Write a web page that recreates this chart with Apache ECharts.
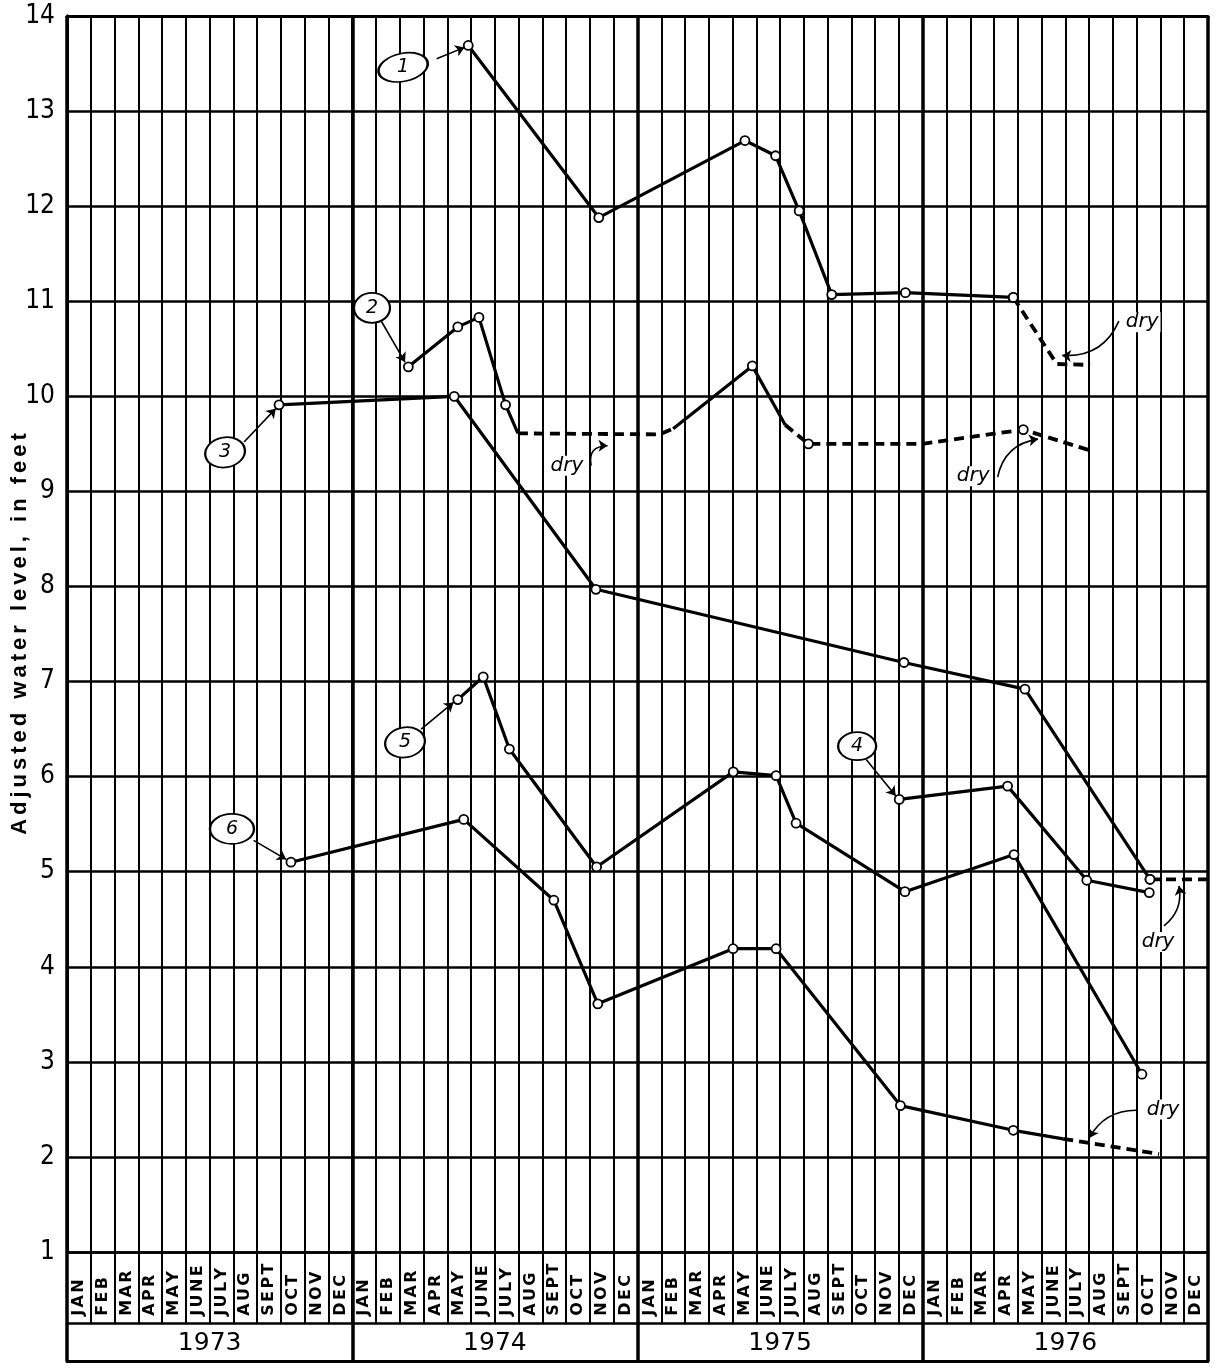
<!DOCTYPE html>
<html><head><meta charset="utf-8">
<script src="https://cdn.jsdelivr.net/npm/echarts@6/dist/echarts.min.js"></script>
<style>html,body{margin:0;padding:0;background:#fff}#c{width:1221px;height:1369px}</style>
</head><body><div id="c"></div>
<script>
// ---------- tick labels / categories ----------
const monthLabels = ['JAN','FEB','MAR','APR','MAY','JUNE','JULY','AUG','SEPT','OCT','NOV','DEC'];
const yearLabels = ['1973','1974','1975','1976'];
const yMin = 1, yMax = 14;
const yTitle = 'Adjusted water level, in feet';

// ---------- series values: [months since Jan 1973, water level (ft), measured(1)/not(0)] ----------
const well1 = [[16.88,13.69,1],[22.37,11.88,1],[28.52,12.69,1],[29.81,12.53,1],[30.80,11.95,1],[32.17,11.07,1],[35.27,11.09,1],[39.81,11.04,1]];
const well1Dry = [[39.81,11.04,1],[41.64,10.34,0],[43.04,10.33,0]];

const well2a = [[14.36,10.31,1],[16.44,10.73,1],[17.33,10.83,1],[18.45,9.91,1],[18.97,9.61,0]];
const well2DryA = [[18.97,9.61,0],[24.95,9.60,0],[25.5,9.66,0]];
const well2b = [[25.5,9.66,0],[28.83,10.32,1],[30.21,9.70,0]];
const well2DryB = [[30.21,9.70,0],[31.19,9.50,1],[35.98,9.50,0],[40.23,9.65,1],[43.04,9.43,0]];

const well3 = [[8.92,9.91,1],[16.29,10.00,1],[22.25,7.97,1],[35.21,7.20,1],[40.30,6.92,1],[45.56,4.92,1]];
const well3Dry = [[45.56,4.92,1],[48,4.92,0]];

const well4 = [[35.01,5.76,1],[39.57,5.90,1],[42.90,4.91,1],[45.53,4.78,1]];

const well5 = [[16.44,6.81,1],[17.51,7.05,1],[18.61,6.29,1],[22.28,5.05,1],[28.03,6.05,1],[29.83,6.01,1],[30.67,5.51,1],[35.25,4.79,1],[39.84,5.18,1],[45.22,2.87,1]];

const well6 = [[9.42,5.10,1],[16.69,5.55,1],[20.48,4.70,1],[22.33,3.61,1],[28.02,4.19,1],[29.83,4.19,1],[35.06,2.54,1],[39.81,2.28,1],[41.91,2.19,0]];
const well6Dry = [[41.91,2.19,0],[45.94,2.03,0]];

// ---------- annotations (data coordinates) ----------
const calloutNumbers = ['1','2','3','4','5','6'];
const calloutHeads = [[14.14,13.46],[12.83,10.93],[6.65,9.41],[33.24,6.32],[14.22,6.36],[6.94,5.45]];
const calloutTails = [
  [[15.55,13.55],[16.72,13.67]],
  [[13.20,10.80],[14.22,10.36]],
  [[7.45,9.52],[8.78,9.87]],
  [[33.62,6.18],[34.86,5.80]],
  [[14.90,6.50],[16.26,6.78]],
  [[7.85,5.33],[9.22,5.13]]
];
const dryText = 'dry';
const dryNotes = [[45.23,10.78],[21.03,9.27],[38.12,9.16],[45.90,4.26],[46.11,2.50]];
const dryArrows = [
  [[44.25,10.79],[41.86,10.43]],
  [[22.05,9.27],[22.74,9.48]],
  [[39.15,9.15],[40.85,9.55]],
  [[46.15,4.43],[46.78,4.85]],
  [[45.05,2.49],[43.00,2.20]]
];
const dryCurve = [0.35, 0.6, 0.35, -0.3, -0.3];
const calloutSizes = [[50,28],[36,30],[40,30],[38,28],[40,30],[44,30]];
const calloutRot = [12, 0, 10, 0, 10, 0];

// ---------- helpers ----------
const spaced = (s, style) => s.split('').map(ch => '{' + style + '|' + ch + '}').join('');
const pts = arr => arr.map(p => ({value: [p[0], p[1]], symbol: p[2] ? 'circle' : 'none'}));
const lineSeries = (arr, dashed) => ({
  type: 'line', xAxisIndex: 0, yAxisIndex: 0, data: pts(arr),
  showSymbol: true, symbolSize: 9, silent: true, z: 5,
  itemStyle: {color: '#fff', borderColor: '#000', borderWidth: 1.8},
  lineStyle: {color: '#000', width: dashed ? 3.8 : 3.2, type: dashed ? [10, 6] : 'solid'}
});

const monthCats = [];
yearLabels.forEach(y => monthLabels.forEach(m => monthCats.push(m + '-' + y)));

const chart = echarts.init(document.getElementById('c'), null, {renderer: 'canvas'});
chart.setOption({
  animation: false,
  backgroundColor: '#fff',
  grid: {left: 67, right: 13, top: 16, bottom: 117, containLabel: false, outerBoundsMode: 'none'},
  xAxis: [
    {type: 'value', min: 0, max: 48, interval: 1, axisLine: {show: false}, axisTick: {show: false}, axisLabel: {show: false}, splitLine: {show: false}},
    {type: 'category', data: monthCats, position: 'bottom', boundaryGap: true,
     axisLine: {show: true, lineStyle: {color: '#000', width: 2.5}},
     axisTick: {show: true, interval: 0, length: 71, lineStyle: {color: '#000', width: 2}},
     splitLine: {show: true, interval: 0, lineStyle: {color: '#000', width: 2}},
     axisLabel: {show: true, interval: 0, rotate: 90, align: 'left', verticalAlign: 'middle', margin: 65,
       formatter: v => spaced(v.split('-')[0], 'm'),
       rich: {m: {fontFamily: 'DejaVu Sans', fontWeight: 'bold', fontSize: 16, color: '#000', padding: [0, 1.2]}}}},
    {type: 'category', data: yearLabels, position: 'bottom', boundaryGap: true,
     axisLine: {show: false},
     axisTick: {show: true, interval: 0, length: 109, lineStyle: {color: '#000', width: 3.5}},
     splitLine: {show: true, interval: 0, lineStyle: {color: '#000', width: 3.5}},
     axisLabel: {show: true, interval: 0, margin: 91, verticalAlign: 'middle', fontFamily: 'DejaVu Sans', fontSize: 25, color: '#000'}},
    {type: 'category', data: yearLabels, position: 'bottom', offset: 71,
     axisLine: {show: true, lineStyle: {color: '#000', width: 2.5}}, axisTick: {show: false}, axisLabel: {show: false}, splitLine: {show: false}},
    {type: 'category', data: yearLabels, position: 'bottom', offset: 109,
     axisLine: {show: true, lineStyle: {color: '#000', width: 3}}, axisTick: {show: false}, axisLabel: {show: false}, splitLine: {show: false}},
    {type: 'value', min: 0, max: 48, position: 'top',
     axisLine: {show: true, lineStyle: {color: '#000', width: 3}}, axisTick: {show: false}, axisLabel: {show: false}, splitLine: {show: false}}
  ],
  yAxis: [
    {type: 'value', min: yMin, max: yMax, interval: 1, position: 'left',
     axisLine: {show: true, lineStyle: {color: '#000', width: 3}}, axisTick: {show: false},
     axisLabel: {margin: 12, fontFamily: "'Liberation Sans Narrow', 'DejaVu Sans Condensed', 'Liberation Sans', sans-serif", fontSize: 26, color: '#000'},
     splitLine: {show: true, lineStyle: {color: '#000', width: 2.5}},
     name: spaced(yTitle, 'c'), nameLocation: 'middle', nameGap: 36, nameRotate: 90, nameMoveOverlap: false,
     nameTextStyle: {rich: {c: {fontFamily: 'Liberation Sans', fontWeight: 'bold', fontSize: 22, color: '#000', padding: [0, 2]}}}},
    {type: 'value', min: yMin, max: yMax, position: 'right',
     axisLine: {show: true, lineStyle: {color: '#000', width: 3}}, axisTick: {show: false}, axisLabel: {show: false}, splitLine: {show: false}}
  ],
  series: [
    lineSeries(well1, false), lineSeries(well1Dry, true),
    lineSeries(well2a, false), lineSeries(well2DryA, true), lineSeries(well2b, false), lineSeries(well2DryB, true),
    lineSeries(well3, false), lineSeries(well3Dry, true),
    lineSeries(well4, false),
    lineSeries(well5, false),
    lineSeries(well6, false), lineSeries(well6Dry, true),
    {type: 'lines', coordinateSystem: 'cartesian2d', xAxisIndex: 0, yAxisIndex: 0, z: 6, silent: true,
     symbol: ['none', 'arrow'], symbolSize: 9,
     lineStyle: {color: '#000', width: 1.6, opacity: 1},
     data: calloutTails.map(c => ({coords: c}))},
    {type: 'scatter', xAxisIndex: 0, yAxisIndex: 0, z: 7, silent: true,
     data: calloutHeads.map((h, i) => ({value: h, symbolSize: calloutSizes[i], symbolRotate: calloutRot[i], label: {formatter: calloutNumbers[i]}})),
     symbol: 'circle',
     itemStyle: {color: '#fff', borderColor: '#000', borderWidth: 2, opacity: 1},
     label: {show: true, position: 'inside', fontFamily: 'DejaVu Sans', fontStyle: 'italic', fontSize: 19, color: '#000'}},
    {type: 'lines', coordinateSystem: 'cartesian2d', xAxisIndex: 0, yAxisIndex: 0, z: 6, silent: true,
     symbol: ['none', 'arrow'], symbolSize: 9,
     lineStyle: {color: '#000', width: 1.6, opacity: 1},
     data: dryArrows.map((c, i) => ({coords: c, lineStyle: {curveness: dryCurve[i]}}))},
    {type: 'scatter', xAxisIndex: 0, yAxisIndex: 0, z: 7, silent: true,
     data: dryNotes, symbol: 'circle', symbolSize: 1, itemStyle: {color: 'rgba(0,0,0,0)'},
     label: {show: true, position: 'inside', formatter: dryText, fontFamily: 'DejaVu Sans', fontStyle: 'italic', fontSize: 20, color: '#000', opacity: 1, backgroundColor: '#fff', padding: [0, 2]}}
  ]
});
</script></body></html>
